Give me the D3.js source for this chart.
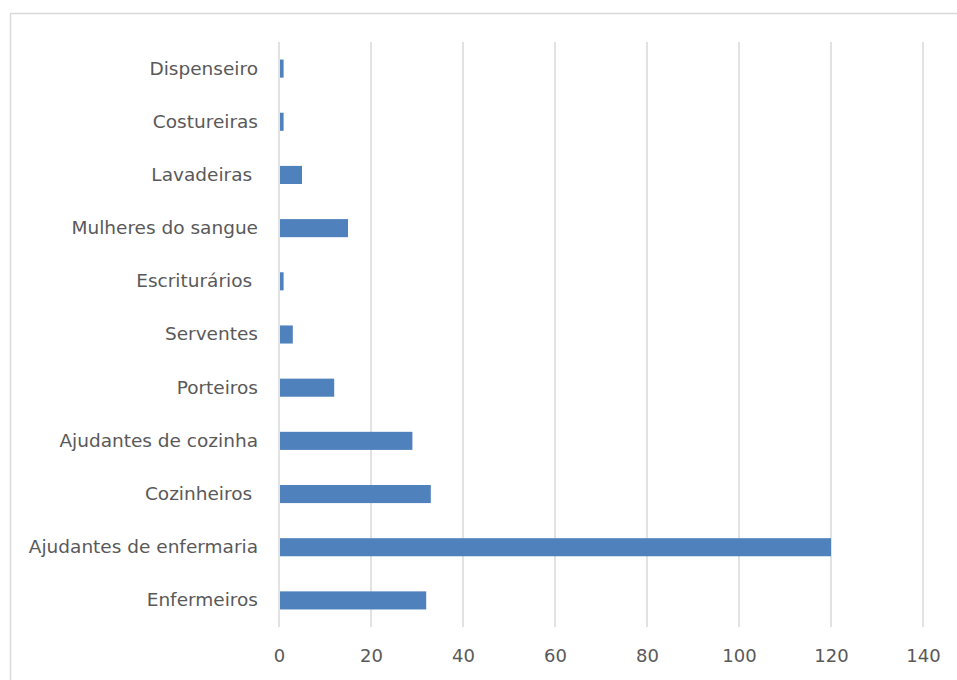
<!DOCTYPE html>
<html>
<head>
<meta charset="utf-8">
<script src="https://cdn.jsdelivr.net/npm/d3@7"></script>
<style>
  html, body { margin: 0; padding: 0; background: #fff; }
  text { font-family: "DejaVu Sans", sans-serif; fill: #595959; white-space: pre; }
</style>
</head>
<body>
<svg id="chart" width="957" height="680"></svg>
<script>
// Categories listed bottom to top
const categories = [
  "Enfermeiros",
  "Ajudantes de enfermaria",
  "Cozinheiros ",
  "Ajudantes de cozinha",
  "Porteiros",
  "Serventes",
  "Escriturários ",
  "Mulheres do sangue",
  "Lavadeiras ",
  "Costureiras",
  "Dispenseiro"
];
const values = [32, 120, 33, 29, 12, 3, 1, 15, 5, 1, 1];
const tickValues = [0, 20, 40, 60, 80, 100, 120, 140];

const svg = d3.select("#chart");

// chart frame
svg.append("rect")
  .attr("x", 10.5).attr("y", 13.5)
  .attr("width", 960).attr("height", 700)
  .attr("fill", "none").attr("stroke", "#d9d9d9").attr("stroke-width", 1.5);

const plot = { left: 279, right: 923, top: 42, bottom: 627 };

const x = d3.scaleLinear().domain([0, 140]).range([plot.left, plot.right]);
const y = d3.scaleBand()
  .domain(categories.slice().reverse())
  .range([plot.top, plot.bottom])
  .paddingInner(0.66).paddingOuter(0.33);

// vertical gridlines
svg.append("g")
  .selectAll("line")
  .data(tickValues)
  .join("line")
  .attr("x1", d => x(d)).attr("x2", d => x(d))
  .attr("y1", plot.top).attr("y2", plot.bottom)
  .attr("stroke", "#d9d9d9").attr("stroke-width", 1.5);

// bars
svg.append("g")
  .selectAll("rect")
  .data(categories.map((c, i) => ({ c, v: values[i] })))
  .join("rect")
  .attr("x", x(0) + 1)
  .attr("y", d => y(d.c))
  .attr("width", d => x(d.v) - x(0) - 1)
  .attr("height", y.bandwidth())
  .attr("fill", "#4f81bd");

// category labels
const yAxis = d3.axisLeft(y).tickSize(0).tickPadding(21);
const gy = svg.append("g").attr("transform", `translate(${plot.left},0)`).call(yAxis);
gy.select(".domain").remove();
gy.selectAll("text").attr("font-size", 18.5).attr("fill", "#595959")
  .style("font-family", "DejaVu Sans, sans-serif");

// value axis labels
const xAxis = d3.axisBottom(x).tickValues(tickValues).tickSize(0).tickPadding(22);
const gx = svg.append("g").attr("transform", `translate(0,${plot.bottom})`).call(xAxis);
gx.select(".domain").remove();
gx.selectAll("text").attr("font-size", 18).attr("fill", "#595959")
  .style("font-family", "DejaVu Sans, sans-serif");
</script>
</body>
</html>
